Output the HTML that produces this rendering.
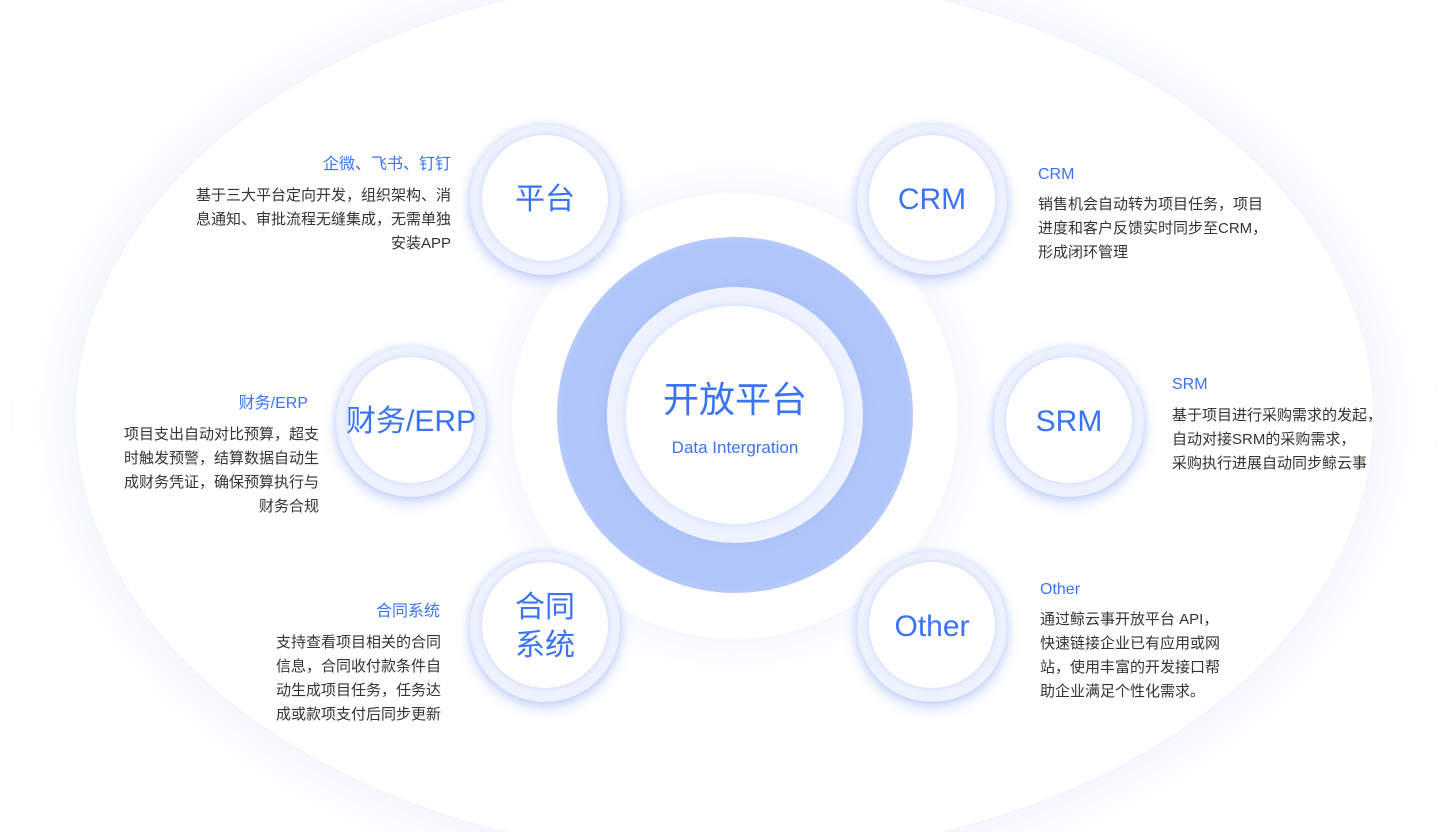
<!DOCTYPE html>
<html style="width:1449px;height:832px;overflow:hidden"><head><meta charset="utf-8"><style>
*{margin:0;padding:0;box-sizing:border-box}
body{width:1449px;height:832px;background:#fff;position:relative;overflow:hidden;font-family:"Liberation Sans","Noto Sans CJK SC",sans-serif}
.abs{position:absolute}
.big{left:76px;top:-25px;width:1297px;height:882px;border-radius:50%;background:#fff;box-shadow:0 0 55px 6px rgba(226,233,253,.7)}
.disk{left:512px;top:193px;width:446px;height:446px;border-radius:50%;background:#fff;box-shadow:0 0 40px 10px rgba(238,242,254,.8)}
.glow{left:557px;top:237px;width:356px;height:356px;border-radius:50%;background:radial-gradient(circle,#b0c5fa 0%,#b0c5fa 68%,#c4d4fb 76%,#dbe5fd 86%,#eef3ff 94%,#f8faff 100%)}
.ring{left:607px;top:287px;width:256px;height:256px;border-radius:50%;background:#eef3ff;box-shadow:0 0 10px rgba(160,185,245,.5)}
.inner{left:626px;top:306px;width:218px;height:218px;border-radius:50%;background:#fff;box-shadow:0 0 8px rgba(170,195,250,.5)}
.sat{width:150px;height:150px;border-radius:50%;background:#eef2fe;box-shadow:0 6px 14px rgba(120,150,240,.35),0 0 8px rgba(200,215,252,.8)}
.sat::after{content:"";position:absolute;left:12px;top:10px;width:126px;height:126px;border-radius:50%;background:#fff;box-shadow:0 0 6px rgba(190,205,250,.8)}
.lbl{position:absolute;z-index:2;color:#3b73f5;font-size:30px;text-align:center;line-height:38px}
.t{position:absolute;color:#3b73f5;font-size:16px;line-height:20px}
.b{position:absolute;color:#333;font-size:15px;line-height:24px}
.r{text-align:right}
</style></head><body>
<div class="abs big"></div>
<div class="abs disk"></div>
<div class="abs glow"></div>
<div class="abs ring"></div>
<div class="abs inner"></div>
<div class="lbl" style="left:616px;top:379px;width:238px;font-size:36px;line-height:42px">开放平台</div>
<div class="lbl" style="left:626px;top:437px;width:218px;font-size:17px;line-height:22px">Data Intergration</div>

<div class="abs sat" style="left:470px;top:125px"></div>
<div class="lbl" style="left:470px;top:181px;width:150px">平台</div>
<div class="abs sat" style="left:857px;top:125px"></div>
<div class="lbl" style="left:857px;top:181px;width:150px">CRM</div>
<div class="abs sat" style="left:336px;top:347px"></div>
<div class="lbl" style="left:326px;top:403px;width:170px">财务/ERP</div>
<div class="abs sat" style="left:994px;top:347px"></div>
<div class="lbl" style="left:994px;top:403px;width:150px">SRM</div>
<div class="abs sat" style="left:470px;top:552px"></div>
<div class="lbl" style="left:470px;top:589px;width:150px">合同<br>系统</div>
<div class="abs sat" style="left:857px;top:552px"></div>
<div class="lbl" style="left:857px;top:608px;width:150px">Other</div>

<div class="t r" style="left:200px;top:155px;width:251px">企微、飞书、钉钉</div>
<div class="b r" style="left:160px;top:184px;width:291px">基于三大平台定向开发，组织架构、消<br>息通知、审批流程无缝集成，无需单独<br>安装APP</div>

<div class="t" style="left:1038px;top:165px">CRM</div>
<div class="b" style="left:1038px;top:193px;width:280px">销售机会自动转为项目任务，项目<br>进度和客户反馈实时同步至CRM，<br>形成闭环管理</div>

<div class="t r" style="left:100px;top:394px;width:208px">财务/ERP</div>
<div class="b r" style="left:80px;top:423px;width:239px">项目支出自动对比预算，超支<br>时触发预警，结算数据自动生<br>成财务凭证，确保预算执行与<br>财务合规</div>

<div class="t" style="left:1172px;top:375px">SRM</div>
<div class="b" style="left:1172px;top:404px;width:270px">基于项目进行采购需求的发起，<br>自动对接SRM的采购需求，<br>采购执行进展自动同步鲸云事</div>

<div class="t r" style="left:260px;top:602px;width:180px">合同系统</div>
<div class="b r" style="left:240px;top:631px;width:201px">支持查看项目相关的合同<br>信息，合同收付款条件自<br>动生成项目任务，任务达<br>成或款项支付后同步更新</div>

<div class="t" style="left:1040px;top:580px">Other</div>
<div class="b" style="left:1040px;top:608px;width:220px">通过鲸云事开放平台 API，<br>快速链接企业已有应用或网<br>站，使用丰富的开发接口帮<br>助企业满足个性化需求。</div>
</body></html>
